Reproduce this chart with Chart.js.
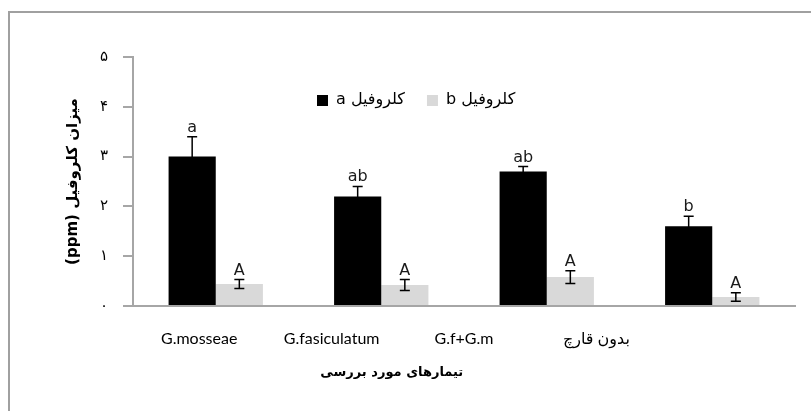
<!DOCTYPE html>
<html>
<head>
<meta charset="utf-8">
<script src="https://cdn.jsdelivr.net/npm/chart.js@4.4.0/dist/chart.umd.min.js"></script>
<style>
  html, body { margin: 0; padding: 0; background: #fff; }
  #wrap { width: 811px; height: 411px; position: relative; }
</style>
</head>
<body>
<div id="wrap"><canvas id="myBarChart"></canvas></div>
<script>
const categories = ['G.mosseae', 'G.fasiculatum', 'G.f+G.m', 'بدون قارچ'];
const seriesLabels = ['کلروفیل a', 'کلروفیل b'];
const chlorophyllA = [3.0, 2.2, 2.7, 1.6];
const chlorophyllAErr = [0.4, 0.2, 0.1, 0.2];
const chlorophyllB = [0.44, 0.42, 0.58, 0.18];
const chlorophyllBErr = [0.09, 0.11, 0.13, 0.085];
const lettersA = ['a', 'ab', 'ab', 'b'];
const lettersB = ['A', 'A', 'A', 'A'];
const yTickLabels = ['۰', '۱', '۲', '۳', '۴', '۵'];
const yTitle = 'میزان کلروفیل (ppm)';
const xTitle = 'تیمارهای مورد بررسی';

const axisGrey = '#a6a6a6';

// frame, error bars, letters, legend and x title
const extrasPlugin = {
  id: 'extras',
  beforeDraw(chart) {
    const ctx = chart.ctx;
    ctx.save();
    ctx.strokeStyle = '#a0a0a0';
    ctx.lineWidth = 2;
    ctx.beginPath();
    ctx.moveTo(9, chart.height);
    ctx.lineTo(9, 12);
    ctx.lineTo(chart.width, 12);
    ctx.stroke();
    ctx.restore();
  },
  afterDatasetsDraw(chart) {
    const ctx = chart.ctx;
    const y = chart.scales.y;
    ctx.save();
    chart.data.datasets.forEach((ds, i) => {
      const meta = chart.getDatasetMeta(i);
      meta.data.forEach((bar, j) => {
        const v = ds.data[j];
        const e = ds.errors[j];
        const yTop = y.getPixelForValue(v + e);
        const yBot = y.getPixelForValue(v - e);
        ctx.strokeStyle = '#000';
        ctx.lineWidth = 1.5;
        ctx.beginPath();
        ctx.moveTo(bar.x, yTop);
        ctx.lineTo(bar.x, yBot);
        ctx.moveTo(bar.x - 5, yTop);
        ctx.lineTo(bar.x + 5, yTop);
        ctx.moveTo(bar.x - 5, yBot);
        ctx.lineTo(bar.x + 5, yBot);
        ctx.stroke();

        ctx.fillStyle = '#1a1a1a';
        ctx.font = '16px "DejaVu Sans"';
        ctx.textAlign = 'center';
        ctx.textBaseline = 'alphabetic';
        ctx.fillText(ds.letters[j], bar.x, yTop - 5);
      });
    });

    // legend
    let lx = 317;
    const ly = 100;
    ctx.font = '16px "DejaVu Sans"';
    ctx.textBaseline = 'middle';
    chart.data.datasets.forEach(ds => {
      ctx.fillStyle = ds.backgroundColor;
      ctx.fillRect(lx, ly - 5, 11, 11);
      lx += 19;
      ctx.direction = 'rtl';
      ctx.textAlign = 'left';
      ctx.fillStyle = '#000';
      ctx.fillText(ds.label, lx, ly);
      lx += ctx.measureText(ds.label).width + 22;
    });

    // x axis title, centred under the four labels
    const x2 = chart.scales.x2;
    const cx = (x2.getPixelForValue(0) + x2.getPixelForValue(categories.length - 1)) / 2;
    ctx.direction = 'rtl';
    ctx.textAlign = 'center';
    ctx.font = 'bold 13px "DejaVu Sans"';
    ctx.fillStyle = '#000';
    ctx.fillText(xTitle, cx - 6, 373);
    ctx.restore();
  }
};

const ctx = document.getElementById('myBarChart').getContext('2d');
const myBarChart = new Chart(ctx, {
  type: 'bar',
  data: {
    labels: categories,
    datasets: [
      {
        label: seriesLabels[0],
        data: chlorophyllA,
        errors: chlorophyllAErr,
        letters: lettersA,
        backgroundColor: '#000000',
        borderWidth: 0
      },
      {
        label: seriesLabels[1],
        data: chlorophyllB,
        errors: chlorophyllBErr,
        letters: lettersB,
        backgroundColor: '#d9d9d9',
        borderWidth: 0
      }
    ]
  },
  options: {
    responsive: true,
    maintainAspectRatio: false,
    animation: false,
    categoryPercentage: 0.57,
    barPercentage: 1,
    layout: { padding: { left: 54, right: 16, top: 57, bottom: 0 } },
    plugins: {
      legend: { display: false },
      tooltip: { enabled: false }
    },
    scales: {
      x: {
        position: 'bottom',
        grid: { display: false, drawTicks: false },
        border: { display: true, color: axisGrey, width: 2 },
        ticks: { display: false },
        afterFit(s) { s.height = 1; }
      },
      x2: {
        type: 'category',
        labels: [...categories, ''],
        offset: true,
        position: 'bottom',
        weight: 1,
        grid: { display: false, drawTicks: false },
        border: { display: false },
        ticks: {
          padding: 22,
          color: '#000',
          maxRotation: 0,
          autoSkip: false,
          font: { family: 'Lato, "DejaVu Sans"', size: 16 }
        },
        afterFit(s) { s.height = 104; }
      },
      y: {
        min: 0,
        max: 5,
        ticks: {
          stepSize: 1,
          padding: 15,
          color: '#000',
          font: { family: '"DejaVu Sans"', size: 15 },
          callback: (v) => yTickLabels[v]
        },
        grid: { drawOnChartArea: false, drawTicks: true, tickLength: 10, color: axisGrey, lineWidth: 2 },
        border: { color: axisGrey, width: 2 },
        title: {
          display: true,
          // right-to-left embedding so "(ppm)" sits at the bottom
          text: '\u202B' + yTitle + '\u202C',
          color: '#000',
          font: { family: '"DejaVu Sans"', size: 15, weight: 'bold' },
          padding: { top: 10, bottom: 0 }
        },
        afterFit(s) { s.width = 79; }
      }
    }
  },
  plugins: [extrasPlugin]
});
</script>
</body>
</html>
